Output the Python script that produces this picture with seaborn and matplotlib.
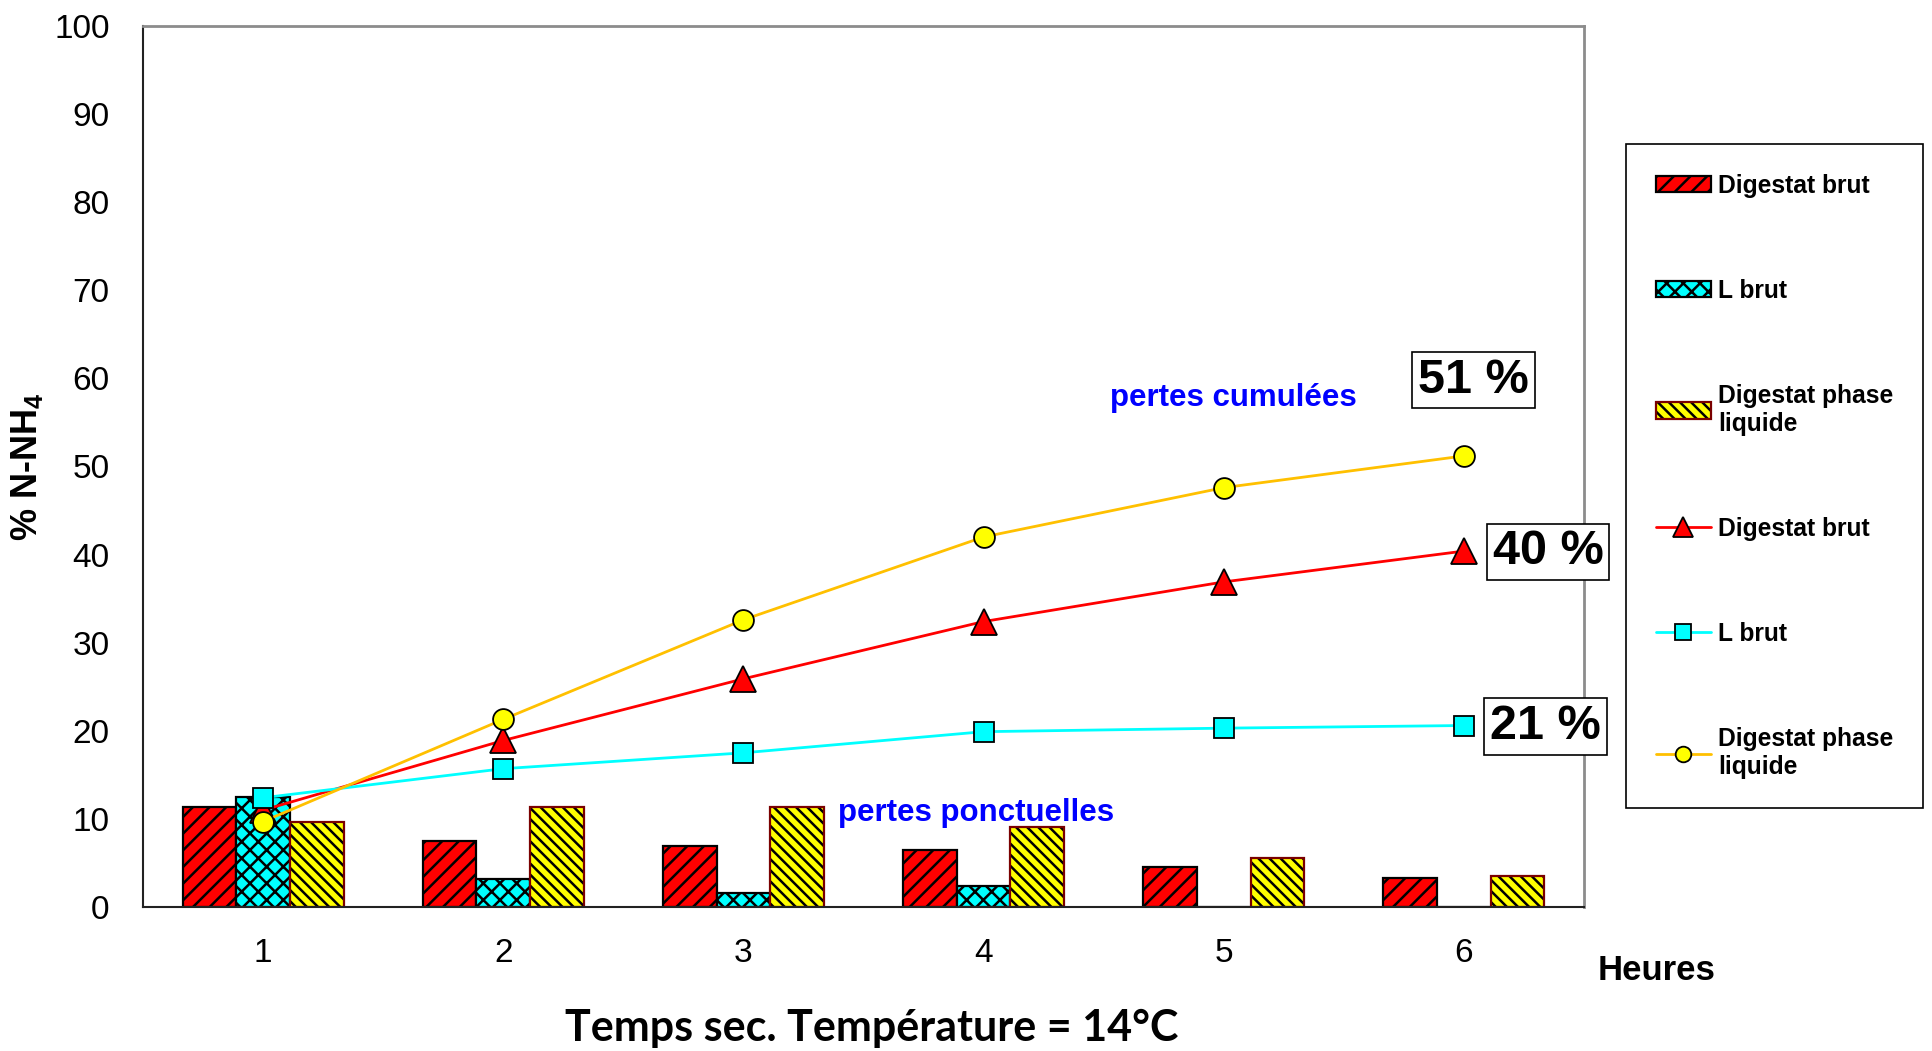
import numpy as np
import pandas as pd
import seaborn as sns
import matplotlib
matplotlib.use("Agg")
import matplotlib.pyplot as plt
import matplotlib.colors as mcolors
from matplotlib.font_manager import FontProperties

# ---------------- data ----------------
hours = ['1', '2', '3', '4', '5', '6']
bar_series = ['Digestat brut', 'L brut', 'Digestat phase\nliquide']
bar_digestat_brut = [11.3, 7.5, 6.9, 6.5, 4.5, 3.3]
bar_l_brut = [12.5, 3.2, 1.6, 2.4, 0.0, 0.0]
bar_phase_liquide = [9.7, 11.4, 11.3, 9.1, 5.6, 3.5]

line_series = ['Digestat brut', 'L brut', 'Digestat phase\nliquide']
cum_digestat_brut = [11.0, 18.9, 25.9, 32.4, 36.9, 40.4]
cum_l_brut = [12.4, 15.7, 17.5, 19.9, 20.3, 20.6]
cum_phase_liquide = [9.7, 21.3, 32.6, 42.0, 47.6, 51.2]

final_labels = ['51 %', '40 %', '21 %']
y_ticks = list(range(0, 101, 10))

# ---------------- style ----------------
sns.set_style('white')
plt.rcParams['font.family'] = ['Liberation Sans', 'DejaVu Sans']
plt.rcParams['text.color'] = 'black'
plt.rcParams['axes.labelcolor'] = 'black'
plt.rcParams['xtick.color'] = 'black'
plt.rcParams['ytick.color'] = 'black'
plt.rcParams['hatch.linewidth'] = 1.8
plt.rcParams['mathtext.fontset'] = 'custom'
plt.rcParams['mathtext.rm'] = 'Liberation Sans'
plt.rcParams['mathtext.bf'] = 'Liberation Sans:bold'

W, H = 1932, 1051
fig = plt.figure(figsize=(W / 100, H / 100), dpi=100)
fig.patch.set_facecolor('white')
ax = fig.add_axes([143 / W, 1 - 907 / H, (1584 - 143) / W, (907 - 26) / H])

# ---------------- bars ----------------
df_bars = pd.DataFrame({
    'Heure': hours * 3,
    'val': bar_digestat_brut + bar_l_brut + bar_phase_liquide,
    'serie': [bar_series[0]] * 6 + [bar_series[1]] * 6 + [bar_series[2]] * 6,
})
sns.barplot(data=df_bars, x='Heure', y='val', hue='serie', order=hours,
            hue_order=bar_series, palette=['#FF0000', '#00FFFF', '#FFFF00'],
            width=0.67, gap=0, saturation=1, errorbar=None, legend=False, ax=ax)

hatches = ['//', 'xx', '\\\\\\']
edges = ['black', 'black', '#7a0000']
for cont, h, e in zip(ax.containers, hatches, edges):
    for p in cont:
        p.set_hatch(h)
        p.set_edgecolor(e)
        p.set_linewidth(1.6)
        try:
            p._hatch_color = mcolors.to_rgba('black')
        except Exception:
            pass

# ---------------- lines ----------------
pos = np.arange(len(hours))
line_styles = [
    (cum_digestat_brut, '#FF0000', '#FF0000', '^', 19),
    (cum_l_brut, '#00FFFF', '#00FFFF', 's', 15),
    (cum_phase_liquide, '#FFC000', '#FFFF00', 'o', 15),
]
line_handles = []
for (vals, col, face, mk, ms), lab in zip(line_styles, line_series):
    n_before = len(ax.lines)
    sns.lineplot(x=pos, y=vals, color=col, marker=mk, markersize=ms,
                 markerfacecolor=face, markeredgecolor='black',
                 markeredgewidth=1.3, linewidth=2, ax=ax, legend=False)
    ln = ax.lines[n_before]
    ln.set_label(lab)
    line_handles.append(ln)

# ---------------- axes ----------------
ax.set_xlim(-0.5, 5.5)
ax.set_ylim(0, 100)
ax.set_yticks(y_ticks)
ax.set_yticklabels([str(v) for v in y_ticks])
ax.set_xticks(pos)
ax.set_xticklabels(hours)
ax.set_xticks(np.arange(-0.5, len(hours), 1.0), minor=True)
ax.set_xlabel('')
ax.set_ylabel('')
ax.grid(False)

ax.tick_params(axis='x', which='major', length=0, pad=22, labelsize=24, colors='black')
ax.tick_params(axis='x', which='minor', direction='inout', length=18, width=1.2,
               color='#333333')
ax.tick_params(axis='y', which='major', direction='inout', length=14, width=1.2,
               color='#333333', pad=17, labelsize=24, labelcolor='black')

for s in ['left', 'bottom']:
    ax.spines[s].set_color('#222222')
    ax.spines[s].set_linewidth(1.5)
for s in ['top', 'right']:
    ax.spines[s].set_color('#8c8c8c')
    ax.spines[s].set_linewidth(2)

# ---------------- annotations ----------------
for txt, xy in zip(final_labels, [(5.04, 59.8), (5.35, 40.3), (5.34, 20.5)]):
    ax.text(xy[0], xy[1], txt, ha='center', va='center', fontsize=35,
            fontweight='bold', family='Liberation Sans', color='black',
            clip_on=False, zorder=5,
            bbox=dict(boxstyle='square,pad=0.12', fc='white', ec='black', lw=1.2))

fig.text(1233 / W, 1 - 398 / H, 'pertes cumulées', color='#0000FF', fontsize=22.5,
         fontweight='bold', ha='center', va='center')
fig.text(976 / W, 1 - 813 / H, 'pertes ponctuelles', color='#0000FF', fontsize=22.5,
         fontweight='bold', ha='center', va='center')
fig.text(27 / W, 1 - 467 / H, r'% N-NH$_\mathbf{4}$', rotation=90, fontsize=26,
         fontweight='bold', ha='center', va='center', color='black')
fig.text(1657 / W, 1 - 970 / H, 'Heures', fontsize=25, fontweight='bold',
         ha='center', va='center', color='black')
fig.text(872 / W, 1 - 1028 / H, 'Temps sec. Température = 14°C', fontsize=31,
         fontweight='bold', family=['Lato', 'DejaVu Sans'], ha='center',
         va='center', color='black')

# ---------------- legend ----------------
bar_handles = [c.patches[0] for c in ax.containers]
handles = bar_handles + line_handles
labels = bar_series + line_series
leg = ax.legend(handles, labels, loc='upper left',
                bbox_to_anchor=(1626 / W, 1 - 144 / H), bbox_transform=fig.transFigure,
                borderaxespad=0, borderpad=1.2, labelspacing=3.3,
                handlelength=2.25, handleheight=0.64, handletextpad=0.3,
                markerscale=0.75, frameon=True, fancybox=False,
                prop=FontProperties(family='Liberation Sans', weight='bold', size=17.7))
leg.get_frame().set_edgecolor('black')
leg.get_frame().set_linewidth(1.2)
leg.get_frame().set_alpha(1)
for t in leg.get_texts():
    t.set_color('black')

fig.savefig('out.png', dpi=100, facecolor='white')
